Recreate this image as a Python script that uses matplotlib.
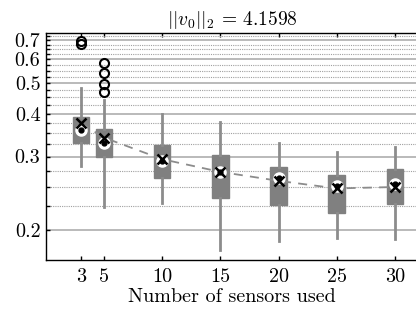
import numpy as np
import matplotlib
matplotlib.use("Agg")
import matplotlib.pyplot as plt
from matplotlib.ticker import FixedLocator, FixedFormatter, NullFormatter

plt.rcParams["font.family"] = "serif"
plt.rcParams["font.serif"] = ["cmr10", "DejaVu Serif"]
plt.rcParams["mathtext.fontset"] = "cm"
plt.rcParams["axes.formatter.use_mathtext"] = True

# values
sensors = [3, 5, 10, 15, 20, 25, 30]
whis_lo = [0.283, 0.224, 0.229, 0.183, 0.190, 0.193, 0.192]
q1 = [0.328, 0.299, 0.263, 0.235, 0.227, 0.217, 0.228]
medians = [0.357, 0.327, 0.291, 0.273, 0.263, 0.251, 0.254]
means = [0.374, 0.339, 0.295, 0.273, 0.259, 0.248, 0.250]
q3 = [0.390, 0.359, 0.322, 0.302, 0.282, 0.268, 0.278]
whis_hi = [0.481, 0.441, 0.399, 0.378, 0.327, 0.309, 0.319]
outliers = [[0.697, 0.677], [0.582, 0.539, 0.497, 0.468], [], [], [], [], []]

y_major = [0.2, 0.3, 0.4, 0.5, 0.6, 0.7]
y_minor = [0.175, 0.225, 0.25, 0.275, 0.325, 0.35, 0.375, 0.425, 0.45,
           0.475, 0.525, 0.55, 0.575, 0.625, 0.65, 0.675, 0.725]
title = r"$||v_0||_2\,=\,4.1598$"


def fwd(y):
    return np.log(np.maximum(np.asarray(y, dtype=float) - 0.1, 1e-9))


def inv(v):
    return np.exp(v) + 0.1


stats = []
for i in range(len(sensors)):
    stats.append({
        "whislo": whis_lo[i], "q1": q1[i], "med": medians[i],
        "q3": q3[i], "whishi": whis_hi[i], "fliers": outliers[i],
    })

fig = plt.figure(figsize=(4.16, 3.12), dpi=100)
ax = fig.add_axes([46 / 416, 52 / 312, 372 / 416, 227 / 312])
ax.set_yscale("function", functions=(fwd, inv))

gray = "#808080"
ax.bxp(
    stats,
    positions=sensors,
    widths=1.4,
    patch_artist=True,
    showcaps=False,
    boxprops=dict(facecolor=gray, edgecolor=gray, linewidth=1),
    whiskerprops=dict(color="#8c8c8c", linewidth=2),
    medianprops=dict(linewidth=0),
    flierprops=dict(marker="o", markerfacecolor="none", markeredgecolor="black",
                    markersize=6.5, markeredgewidth=1.5),
    zorder=3,
)

ax.plot(sensors, means, linestyle=(0, (5, 4)), color="#8c8c8c", linewidth=1.3, zorder=4)
ax.plot(sensors, medians, "o", color="white", markersize=8, zorder=5)
ax.plot(sensors, medians, "o", color="black", markersize=3.5, zorder=6)
ax.plot(sensors, means, "x", color="black", markersize=7, markeredgewidth=1.8, zorder=7)

ax.set_xlim(0, 32)
ax.set_ylim(0.1753, 0.742)

ax.yaxis.set_major_locator(FixedLocator(y_major))
ax.yaxis.set_major_formatter(FixedFormatter([str(v) for v in y_major]))
ax.yaxis.set_minor_locator(FixedLocator(y_minor))
ax.yaxis.set_minor_formatter(NullFormatter())
ax.set_xticks(sensors)
ax.set_xticklabels([str(s) for s in sensors])

ax.grid(axis="y", which="major", color="#b4b4b4", linewidth=1.3, zorder=0)
ax.grid(axis="y", which="minor", color="#a0a0a0", linewidth=0.8,
        linestyle=(0, (1, 1)), zorder=0)
ax.set_axisbelow(True)

ax.tick_params(axis="both", which="both", direction="in", length=3,
               width=1, labelsize=14.5)
ax.tick_params(axis="x", top=True, pad=6)
ax.tick_params(axis="y", pad=4)
for s in ax.spines.values():
    s.set_linewidth(1)

ax.set_xlabel("Number of sensors used", fontsize=14.5, labelpad=1)
ax.set_title(title, fontsize=14, pad=6)

fig.savefig("out.png", dpi=100)
